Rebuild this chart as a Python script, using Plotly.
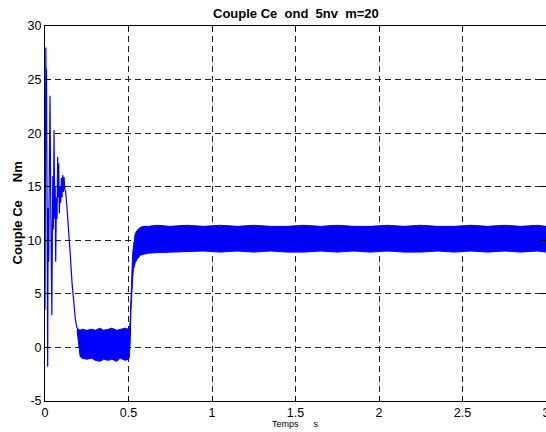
import plotly.graph_objects as go

# ---- data ----
# start-up transient (explicit samples)
t_transient = [0.000, 0.003, 0.005, 0.007, 0.009, 0.012, 0.016, 0.019, 0.022, 0.026,
               0.030, 0.034, 0.038, 0.041, 0.044, 0.047, 0.050, 0.054, 0.058, 0.061,
               0.064, 0.068, 0.072, 0.076, 0.079, 0.082, 0.086, 0.090, 0.094, 0.098,
               0.102, 0.106, 0.110, 0.114, 0.118, 0.124, 0.132, 0.142, 0.152, 0.162,
               0.172, 0.182, 0.192]
ce_transient = [3.5, 20.0, 28.0, 21.0, 26.0, 9.0, -1.8, 13.0, 8.0, 17.0,
                23.5, 14.0, 7.0, 3.0, 11.0, 16.0, 11.0, 20.3, 12.0, 15.0,
                8.0, 14.0, 12.0, 17.8, 14.0, 17.2, 12.5, 15.0, 13.5, 15.8,
                14.0, 16.1, 14.5, 15.9, 14.8, 14.5, 13.0, 11.0, 8.5, 6.0,
                4.0, 2.6, 1.8]

# fast-ripple band: upper and lower envelopes
t_band = [0.192, 0.200, 0.210, 0.220, 0.250, 0.280, 0.300, 0.330, 0.350, 0.380,
          0.400, 0.430, 0.450, 0.480, 0.500, 0.505, 0.510, 0.515, 0.520, 0.525,
          0.530, 0.540, 0.550, 0.570, 0.590, 0.620, 0.670, 0.750, 0.850, 0.950,
          1.050, 1.150, 1.250, 1.350, 1.450, 1.550, 1.650, 1.750, 1.850, 1.950,
          2.050, 2.150, 2.250, 2.350, 2.450, 2.550, 2.650, 2.750, 2.850, 2.950, 3.000]
ce_upper = [1.8, 1.7, 1.6, 1.7, 1.6, 1.7, 1.6, 1.8, 1.6, 1.7,
            1.8, 1.6, 1.7, 1.8, 1.7, 1.6, 2.5, 5.0, 7.5, 8.8,
            9.5, 10.6, 10.9, 11.2, 11.3, 11.3, 11.4, 11.3, 11.4, 11.3,
            11.4, 11.3, 11.4, 11.3, 11.3, 11.4, 11.3, 11.4, 11.3, 11.3,
            11.4, 11.3, 11.4, 11.3, 11.3, 11.4, 11.3, 11.4, 11.3, 11.4, 11.3]
ce_lower = [1.6, 0.3, -0.8, -1.0, -1.1, -1.0, -1.2, -1.3, -1.1, -1.2,
            -1.1, -1.3, -1.0, -1.2, -1.1, -0.9, 0.5, 3.5, 5.5, 6.5,
            7.3, 7.9, 8.2, 8.6, 8.7, 8.8, 8.85, 8.9, 8.9, 9.0,
            8.9, 9.0, 8.9, 9.0, 8.9, 8.9, 9.0, 8.9, 9.0, 8.9,
            9.0, 8.9, 8.9, 9.0, 8.9, 9.0, 8.9, 9.0, 8.9, 9.0, 8.9]

x_ticks = [0, 0.5, 1, 1.5, 2, 2.5, 3]
x_tick_text = ["0", "0.5", "1", "1.5", "2", "2.5", "3"]
y_ticks = [-5, 0, 5, 10, 15, 20, 25, 30]
y_tick_text = ["-5", "0", "5", "10", "15", "20", "25", "30"]

BLUE = "#0000ff"
NB = "\u00a0"

fig = go.Figure()
fig.add_trace(go.Scatter(x=t_transient, y=ce_transient, mode="lines",
                         line=dict(color=BLUE, width=1.2), showlegend=False,
                         hoverinfo="skip"))
fig.add_trace(go.Scatter(x=t_band, y=ce_upper, mode="lines",
                         line=dict(color=BLUE, width=1), showlegend=False,
                         hoverinfo="skip"))
fig.add_trace(go.Scatter(x=t_band, y=ce_lower, mode="lines",
                         line=dict(color=BLUE, width=1), fill="tonexty",
                         fillcolor=BLUE, showlegend=False, hoverinfo="skip"))

axis_common = dict(
    showline=True, linecolor="black", linewidth=1, mirror="allticks",
    ticks="inside", ticklen=5, tickcolor="black", tickwidth=1,
    showgrid=True, gridcolor="#222222", gridwidth=1, griddash="6px,4px",
    zeroline=False, ticklabeloverflow="allow", automargin=False,
    tickfont=dict(family="Arial, Liberation Sans, sans-serif", size=12.5, color="black"),
)

fig.update_xaxes(range=[0, 3], tickvals=x_ticks, ticktext=x_tick_text, **axis_common)
fig.update_yaxes(range=[-5, 30], tickvals=y_ticks, ticktext=y_tick_text, **axis_common)

font_fam = "Arial, Liberation Sans, sans-serif"
fig.update_layout(
    width=546, height=432,
    margin=dict(l=45, r=0, t=26, b=31),
    paper_bgcolor="white", plot_bgcolor="white",
    annotations=[
        dict(text="<b>Couple Ce" + NB * 2 + "ond" + NB * 2 + "5nv" + NB * 2 + "m=20</b>",
             xref="paper", yref="paper", x=0.5, y=1 + 12 / 375,
             xanchor="center", yanchor="middle", showarrow=False,
             font=dict(family=font_fam, size=13, color="black")),
        dict(text="<b>Couple Ce" + NB * 5 + "Nm</b>",
             xref="paper", yref="paper", x=(17 - 45) / 501, y=0.5,
             xanchor="center", yanchor="middle", textangle=-90, showarrow=False,
             font=dict(family=font_fam, size=13, color="black")),
        dict(text="Temps" + NB * 6 + "s",
             xref="paper", yref="paper", x=0.5, y=-(424 - 401) / 375,
             xanchor="center", yanchor="middle", showarrow=False,
             font=dict(family=font_fam, size=9, color="black")),
    ],
)

fig.write_html("out.html", config={"displayModeBar": False},
               post_script="document.body.style.margin='0';document.body.style.overflow='hidden';")
